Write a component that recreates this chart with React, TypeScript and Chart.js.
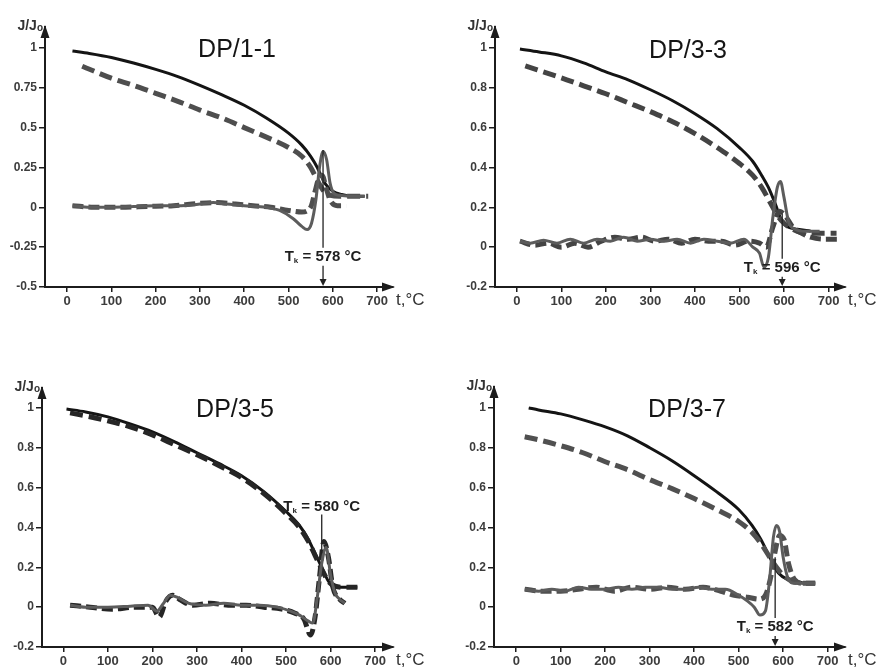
import React, { useEffect, useRef } from "react";
import { Chart, registerables } from "chart.js";
Chart.register(...registerables);

// ---------- shared ticks ----------
const xTicks = [0, 100, 200, 300, 400, 500, 600, 700];
const yTicksA = [-0.5, -0.25, 0, 0.25, 0.5, 0.75, 1];
const yTicksB = [-0.2, 0, 0.2, 0.4, 0.6, 0.8, 1];
const titles = ["DP/1-1", "DP/3-3", "DP/3-5", "DP/3-7"];
const tkValues = [578, 596, 580, 582];

// ---------- DP/1-1 ----------
const p1ExpT = [12, 50, 100, 150, 200, 250, 300, 350, 400, 450, 500, 530, 550, 565, 575, 585, 600, 620, 645, 672];
const p1ExpJ = [0.98, 0.965, 0.94, 0.905, 0.865, 0.82, 0.765, 0.705, 0.64, 0.56, 0.465, 0.39, 0.32, 0.25, 0.19, 0.14, 0.1, 0.08, 0.07, 0.07];
const p1CalT = [34, 100, 150, 200, 250, 300, 350, 400, 450, 500, 530, 550, 565, 580, 595, 615, 650, 680];
const p1CalJ = [0.885, 0.81, 0.765, 0.715, 0.665, 0.61, 0.56, 0.5, 0.44, 0.375, 0.32, 0.25, 0.17, 0.1, 0.075, 0.07, 0.07, 0.07];
const p1ExpDT = [12, 50, 100, 150, 200, 250, 300, 330, 360, 400, 450, 480, 510, 530, 542, 552, 562, 570, 578, 586, 594, 602, 615, 640, 672];
const p1ExpD = [0.01, 0.0, 0.0, 0.005, 0.01, 0.01, 0.02, 0.03, 0.02, 0.01, 0.0, -0.02, -0.07, -0.12, -0.14, -0.1, 0.05, 0.25, 0.35, 0.3, 0.15, 0.09, 0.075, 0.07, 0.07];
const p1CalDT = [12, 60, 120, 180, 240, 300, 340, 380, 420, 460, 500, 530, 550, 560, 568, 576, 585, 595, 610, 630];
const p1CalD = [0.01, 0.0, 0.0, 0.005, 0.01, 0.025, 0.03, 0.02, 0.01, 0.0, -0.02, -0.03, 0.0, 0.1, 0.18, 0.2, 0.12, 0.04, 0.01, 0.01];

// ---------- DP/3-3 ----------
const p2ExpT = [7, 50, 100, 150, 200, 250, 300, 350, 400, 450, 500, 530, 550, 565, 580, 595, 610, 630, 660];
const p2ExpJ = [0.995, 0.98, 0.96, 0.925, 0.88, 0.84, 0.79, 0.735, 0.67, 0.595, 0.5, 0.43, 0.36, 0.3, 0.22, 0.13, 0.1, 0.09, 0.08];
const p2CalT = [19, 100, 150, 200, 250, 300, 350, 400, 450, 500, 530, 550, 570, 585, 600, 620, 650, 690, 718];
const p2CalJ = [0.91, 0.85, 0.81, 0.77, 0.725, 0.68, 0.63, 0.57, 0.5, 0.42, 0.36, 0.3, 0.22, 0.16, 0.12, 0.09, 0.07, 0.07, 0.07];
const p2ExpDT = [7, 30, 60, 90, 120, 150, 180, 210, 240, 270, 300, 330, 360, 390, 420, 450, 480, 510, 530, 545, 555, 565, 575, 585, 592, 600, 610, 625, 650, 680];
const p2ExpD = [0.03, 0.02, 0.035, 0.02, 0.04, 0.02, 0.04, 0.03, 0.05, 0.03, 0.04, 0.03, 0.04, 0.02, 0.04, 0.03, 0.02, 0.04, 0.0, -0.03, -0.1, -0.05, 0.15, 0.3, 0.33, 0.25, 0.13, 0.09, 0.08, 0.08];
const p2CalDT = [7, 40, 70, 100, 130, 160, 190, 220, 250, 280, 310, 340, 370, 400, 430, 460, 490, 520, 545, 560, 575, 590, 605, 620, 640, 660, 690, 720];
const p2CalD = [0.03, 0.01, 0.02, 0.0, 0.02, 0.0, 0.03, 0.05, 0.04, 0.05, 0.03, 0.04, 0.02, 0.04, 0.03, 0.03, 0.01, 0.03, 0.02, 0.0, 0.1, 0.18, 0.15, 0.1, 0.07, 0.05, 0.04, 0.04];

// ---------- DP/3-5 ----------
const p3ExpT = [7, 50, 100, 150, 200, 250, 300, 350, 400, 450, 500, 530, 550, 565, 580, 595, 610, 630, 660];
const p3ExpJ = [0.995, 0.98, 0.955, 0.92, 0.88, 0.83, 0.775, 0.72, 0.66, 0.58, 0.48, 0.41, 0.34, 0.27, 0.2, 0.13, 0.1, 0.1, 0.1];
const p3CalT = [15, 50, 100, 150, 200, 250, 300, 350, 400, 450, 500, 530, 550, 565, 580, 595, 610, 630, 660];
const p3CalJ = [0.975, 0.96, 0.935, 0.905, 0.865, 0.815, 0.765, 0.71, 0.65, 0.57, 0.47, 0.4, 0.33, 0.26, 0.19, 0.13, 0.105, 0.1, 0.1];
const p3ExpDT = [15, 50, 100, 150, 190, 210, 225, 240, 255, 280, 320, 360, 400, 440, 480, 510, 530, 550, 560, 570, 580, 590, 600, 610, 620, 632];
const p3ExpD = [0.01, 0.0, 0.0, 0.005, 0.01, -0.02, 0.02, 0.06, 0.05, 0.02, 0.01, 0.02, 0.01, 0.01, 0.0, -0.02, -0.04, -0.07, -0.08, 0.05, 0.22, 0.3, 0.16, 0.07, 0.04, 0.02];
const p3CalDT = [15, 60, 110, 160, 200, 215, 230, 245, 260, 290, 330, 370, 410, 450, 490, 520, 540, 555, 565, 575, 585, 595, 605, 620, 632];
const p3CalD = [0.01, 0.0, -0.01, 0.0, 0.0, -0.05, 0.03, 0.06, 0.04, 0.01, 0.02, 0.01, 0.01, 0.0, -0.01, -0.03, -0.06, -0.14, -0.05, 0.15, 0.33, 0.25, 0.1, 0.04, 0.02];

// ---------- DP/3-7 ----------
const p4ExpT = [28, 50, 100, 150, 200, 250, 300, 350, 400, 450, 500, 530, 550, 570, 590, 610, 630, 650, 672];
const p4ExpJ = [1.0, 0.99, 0.97, 0.94, 0.905, 0.86, 0.8, 0.735, 0.66, 0.58, 0.49, 0.41, 0.34, 0.25, 0.17, 0.14, 0.13, 0.12, 0.12];
const p4CalT = [19, 50, 100, 150, 200, 250, 300, 350, 400, 450, 500, 530, 550, 570, 585, 600, 620, 650, 672];
const p4CalJ = [0.855, 0.84, 0.81, 0.775, 0.73, 0.69, 0.64, 0.595, 0.545, 0.49, 0.43, 0.375, 0.32, 0.25, 0.2, 0.16, 0.13, 0.12, 0.12];
const p4ExpDT = [19, 50, 80, 110, 140, 170, 200, 230, 260, 290, 320, 350, 380, 410, 440, 470, 500, 520, 535, 548, 560, 570, 578, 585, 592, 600, 610, 625, 650, 672];
const p4ExpD = [0.09, 0.08, 0.09, 0.08, 0.1, 0.09, 0.09, 0.1, 0.09, 0.1, 0.1, 0.09, 0.09, 0.1, 0.09, 0.09, 0.06, 0.03, 0.0, -0.04, -0.02, 0.15, 0.35, 0.41, 0.38, 0.25, 0.15, 0.12, 0.12, 0.12];
const p4CalDT = [19, 60, 100, 140, 180, 220, 260, 300, 340, 380, 420, 460, 490, 520, 545, 560, 572, 582, 592, 602, 612, 625, 645, 672];
const p4CalD = [0.09, 0.08, 0.08, 0.09, 0.1, 0.08, 0.1, 0.09, 0.1, 0.09, 0.1, 0.08, 0.06, 0.05, 0.04, 0.06, 0.15, 0.28, 0.36, 0.34, 0.22, 0.14, 0.12, 0.12];

const FONT = "'Liberation Sans', Arial, sans-serif";
const AXIS = "#1c1c1c";

type Layout = {
  left: number; top: number; w: number; h: number;
  area: { l: number; t: number; r: number; b: number };
  xMin: number; xMax: number; yMin: number; yMax: number;
  yTicks: number[];
  titleX: number; titleY: number;
  tkLabelY: number; tkLineFrom: number; tkArrow: boolean;
  dashColor: string;
};

const layouts: Layout[] = [
  { left: 0, top: 0, w: 440, h: 333, area: { l: 45, t: 27, r: 393, b: 287 }, xMin: -50, xMax: 736, yMin: -0.5, yMax: 1.131, yTicks: yTicksA, titleX: 237, titleY: 50, tkLabelY: -0.31, tkLineFrom: 0.36, tkArrow: true, dashColor: "#4e4e4e" },
  { left: 439, top: 0, w: 440, h: 333, area: { l: 56, t: 27, r: 406, b: 287 }, xMin: -49, xMax: 737, yMin: -0.2, yMax: 1.105, yTicks: yTicksB, titleX: 249, titleY: 51, tkLabelY: -0.103, tkLineFrom: 0.17, tkArrow: true, dashColor: "#444444" },
  { left: 0, top: 334, w: 440, h: 333, area: { l: 42, t: 54, r: 393, b: 313 }, xMin: -48, xMax: 740, yMin: -0.2, yMax: 1.1, yTicks: yTicksB, titleX: 235, titleY: 76, tkLabelY: 0.505, tkLineFrom: 0.27, tkArrow: false, dashColor: "#262626" },
  { left: 439, top: 334, w: 440, h: 333, area: { l: 55, t: 53, r: 406, b: 313 }, xMin: -50, xMax: 739, yMin: -0.2, yMax: 1.105, yTicks: yTicksB, titleX: 248, titleY: 76, tkLabelY: -0.099, tkLineFrom: 0.25, tkArrow: true, dashColor: "#505050" },
];

const series = [
  [[p1ExpT, p1ExpJ], [p1CalT, p1CalJ], [p1ExpDT, p1ExpD], [p1CalDT, p1CalD]],
  [[p2ExpT, p2ExpJ], [p2CalT, p2CalJ], [p2ExpDT, p2ExpD], [p2CalDT, p2CalD]],
  [[p3ExpT, p3ExpJ], [p3CalT, p3CalJ], [p3ExpDT, p3ExpD], [p3CalDT, p3CalD]],
  [[p4ExpT, p4ExpJ], [p4CalT, p4CalJ], [p4ExpDT, p4ExpD], [p4CalDT, p4CalD]],
];

const pts = (t: number[], v: number[]) => t.map((x, i) => ({ x, y: v[i] }));

function drawTk(ctx: CanvasRenderingContext2D, cx: number, cy: number, value: number) {
  const big = `bold 15px ${FONT}`;
  const small = `bold 8px ${FONT}`;
  const rest = ` = ${value} °C`;
  ctx.font = big;
  const wT = ctx.measureText("T").width;
  const wR = ctx.measureText(rest).width;
  ctx.font = small;
  const wk = ctx.measureText("k").width;
  let x = cx - (wT + wk + wR) / 2;
  ctx.fillStyle = "#1e1e1e";
  ctx.textAlign = "left";
  ctx.textBaseline = "middle";
  ctx.font = big;
  ctx.fillText("T", x, cy);
  x += wT;
  ctx.font = small;
  ctx.fillText("k", x, cy + 4);
  x += wk;
  ctx.font = big;
  ctx.fillText(rest, x, cy);
}

function Panel({ idx }: { idx: number }) {
  const ref = useRef<HTMLCanvasElement | null>(null);
  const L = layouts[idx];
  useEffect(() => {
    if (!ref.current) return;
    const s = series[idx];
    const styles = [
      { borderColor: "#141414", borderWidth: 3, borderDash: [] as number[] },
      { borderColor: L.dashColor, borderWidth: 5, borderDash: [13, 6] },
      { borderColor: "#5c5c5c", borderWidth: 3, borderDash: [] as number[] },
      { borderColor: L.dashColor, borderWidth: 5, borderDash: [11, 5] },
    ];
    const datasets = [2, 3, 1, 0].map((k) => ({
      data: pts(s[k][0], s[k][1]),
      borderColor: styles[k].borderColor,
      borderWidth: styles[k].borderWidth,
      borderDash: styles[k].borderDash,
      pointRadius: 0,
      cubicInterpolationMode: "monotone" as const,
      fill: false,
    }));
    const overlay = {
      id: "overlay" + idx,
      afterDraw(chart: any) {
        const ctx: CanvasRenderingContext2D = chart.ctx;
        const { left, top, right, bottom } = chart.chartArea;
        const xs = chart.scales.x;
        const ys = chart.scales.y;
        ctx.save();
        // arrowheads
        ctx.fillStyle = AXIS;
        ctx.beginPath();
        ctx.moveTo(left, top - 2);
        ctx.lineTo(left - 4.5, top + 11);
        ctx.lineTo(left + 4.5, top + 11);
        ctx.closePath();
        ctx.fill();
        ctx.beginPath();
        ctx.moveTo(right + 2, bottom);
        ctx.lineTo(right - 11, bottom - 4.5);
        ctx.lineTo(right - 11, bottom + 4.5);
        ctx.closePath();
        ctx.fill();
        // axis names
        ctx.fillStyle = "#333";
        ctx.textBaseline = "alphabetic";
        ctx.textAlign = "left";
        ctx.font = `bold 14px ${FONT}`;
        const wJ = ctx.measureText("J/J").width;
        ctx.font = `bold 10px ${FONT}`;
        const wo = ctx.measureText("o").width;
        const jx = left - 2 - wJ - wo;
        ctx.font = `bold 14px ${FONT}`;
        ctx.fillText("J/J", jx, top + 3);
        ctx.font = `bold 10px ${FONT}`;
        ctx.fillText("o", jx + wJ, top + 4);
        ctx.font = `17px ${FONT}`;
        ctx.fillText("t,°C", right + 3, bottom + 18);
        // title
        ctx.fillStyle = "#151515";
        ctx.font = `25px ${FONT}`;
        ctx.textAlign = "center";
        ctx.textBaseline = "middle";
        ctx.fillText(titles[idx], L.titleX, L.titleY);
        // Tk annotation
        const tx = xs.getPixelForValue(tkValues[idx]);
        const ly = ys.getPixelForValue(L.tkLabelY);
        const fy = ys.getPixelForValue(L.tkLineFrom);
        ctx.strokeStyle = "#222";
        ctx.lineWidth = 1.3;
        ctx.beginPath();
        if (fy < ly) {
          ctx.moveTo(tx, fy);
          ctx.lineTo(tx, ly - 9);
        } else {
          ctx.moveTo(tx, ly + 8);
          ctx.lineTo(tx, fy);
        }
        ctx.stroke();
        if (L.tkArrow) {
          ctx.beginPath();
          ctx.moveTo(tx, ly + 9);
          ctx.lineTo(tx, bottom - 6);
          ctx.stroke();
          ctx.fillStyle = "#222";
          ctx.beginPath();
          ctx.moveTo(tx, bottom - 1);
          ctx.lineTo(tx - 3.5, bottom - 8);
          ctx.lineTo(tx + 3.5, bottom - 8);
          ctx.closePath();
          ctx.fill();
        }
        drawTk(ctx, tx, ly, tkValues[idx]);
        ctx.restore();
      },
    };
    const tickFont = { family: FONT, size: 13, weight: "bold" as const };
    const chart = new Chart(ref.current, {
      type: "line",
      data: { datasets },
      plugins: [overlay],
      options: {
        animation: false,
        responsive: false,
        events: [],
        layout: { padding: { left: 0, top: L.area.t, right: L.w - L.area.r, bottom: 0 } },
        plugins: { legend: { display: false }, tooltip: { enabled: false }, title: { display: false } },
        scales: {
          x: {
            type: "linear",
            min: L.xMin,
            max: L.xMax,
            afterBuildTicks: (sc: any) => { sc.ticks = xTicks.map((v) => ({ value: v })); },
            afterFit: (sc: any) => { sc.height = L.h - L.area.b; },
            grid: { display: true, drawOnChartArea: false, drawTicks: true, tickLength: 5, color: AXIS, lineWidth: 1.5 },
            border: { display: true, color: AXIS, width: 2 },
            ticks: { font: tickFont, color: "#3c3c3c", padding: 2, maxRotation: 0, autoSkip: false, callback: (v: any) => String(v) },
          },
          y: {
            type: "linear",
            min: L.yMin,
            max: L.yMax,
            afterBuildTicks: (sc: any) => { sc.ticks = L.yTicks.map((v) => ({ value: v })); },
            afterFit: (sc: any) => { sc.width = L.area.l; },
            grid: { display: true, drawOnChartArea: false, drawTicks: true, tickLength: 6, color: AXIS, lineWidth: 1.5 },
            border: { display: true, color: AXIS, width: 2 },
            ticks: { font: { family: FONT, size: 12, weight: "bold" as const }, color: "#3c3c3c", padding: 2, autoSkip: false, callback: (v: any) => String(v) },
          },
        },
      } as any,
    });
    return () => chart.destroy();
  }, [idx]);
  return (
    <canvas
      ref={ref}
      width={L.w}
      height={L.h}
      style={{ position: "absolute", left: L.left, top: L.top, width: L.w, height: L.h }}
    />
  );
}

export default function App() {
  return (
    <div style={{ position: "fixed", left: 0, top: 0, width: 879, height: 667, background: "#fff", overflow: "hidden" }}>
      {[0, 1, 2, 3].map((i) => (
        <Panel key={i} idx={i} />
      ))}
    </div>
  );
}
